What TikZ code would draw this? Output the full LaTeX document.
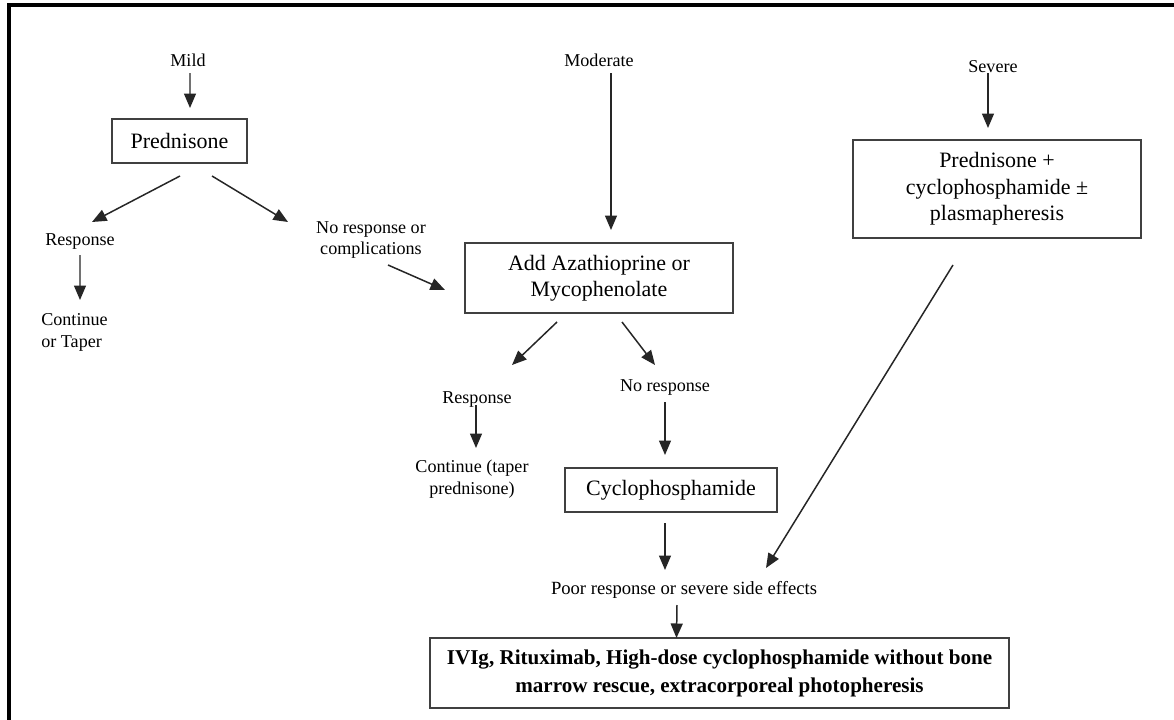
\documentclass[tikz,border=0pt]{standalone}
\usepackage{fontspec}
\setmainfont{Liberation Serif}
\usetikzlibrary{arrows.meta}

\begin{document}
\begin{tikzpicture}
[ x=0.02cm, y=-0.02cm
, box/.style={rectangle, draw=black!75, line width=1pt, inner sep=0pt, align=center, font=\fontsize{12.5}{15}\selectfont}
, boldbox/.style={box, font=\fontsize{12}{16}\selectfont\bfseries}
, caption/.style={inner sep=0pt, align=center, font=\fontsize{10.3}{12.5}\selectfont}
, link/.style={draw=black!85, line width=0.85pt, -{Triangle[length=2.9mm, width=2.4mm]}}
]
\useasboundingbox (0,0) rectangle (1174,720);
\draw [line width=0.08cm] (9,722) |- (1176,5);
% Mild column:
\node (mild) [caption] at (188,60) {Mild};
\node (pred) [box, minimum width=2.7cm, minimum height=0.88cm] at (179.5,141) {Prednisone};
\node (resp1) [caption] at (80,241) {Response};
\node (cont1) [caption, align=left] at (74.5,332) {Continue\\or Taper};
\node (nores1) [caption] at (371,240) {No response or\\complications};
% Moderate column:
\node (moder) [caption] at (599,60) {Moderate};
\node (add) [box, minimum width=5.36cm, minimum height=1.4cm] at (599,278) {Add Azathioprine or\\Mycophenolate};
\node (resp2) [caption] at (477,399) {Response};
\node (cont2) [caption] at (472,479) {Continue (taper\\prednisone)};
\node (nores2) [caption] at (665,387) {No response};
\node (cyc) [box, minimum width=4.24cm, minimum height=0.88cm] at (671,490) {Cyclophosphamide};
% Severe column:
\node (sev) [caption] at (993,67) {Severe};
\node (sevbox) [box, minimum width=5.76cm, minimum height=1.96cm] at (997,189) {Prednisone +\\cyclophosphamide ±\\plasmapheresis};
% Bottom:
\node (poor) [caption, font=\fontsize{10.6}{12.5}\selectfont] at (684,590) {Poor response or severe side effects};
\node (final) [boldbox, minimum width=11.58cm, minimum height=1.4cm] at (719.5,673) {IVIg, Rituximab, High-dose cyclophosphamide without bone\\marrow rescue, extracorporeal photopheresis};

\draw [link] ([shift={(2,13)}]mild.center) -- ([shift={(10.5,-33)}]pred.center);
\draw [link] ([shift={(0.5,35)}]pred.center) -- ([shift={(12,-19)}]resp1.center);
\draw [link] ([shift={(32.5,35)}]pred.center) -- ([shift={(-83,-18)}]nores1.center);
\draw [link] ([shift={(0,14)}]resp1.center) -- ([shift={(5.5,-32)}]cont1.center);
\draw [link] ([shift={(17,25)}]nores1.center) -- ([shift={(-154,12)}]add.center);
\draw [link] ([shift={(12,13)}]moder.center) -- ([shift={(12,-48)}]add.center);
\draw [link] ([shift={(-5,6)}]sev.center) -- ([shift={(-9,-61)}]sevbox.center);
\draw [link] ([shift={(-42,44)}]add.center) -- ([shift={(35,-34)}]resp2.center);
\draw [link] ([shift={(23,44)}]add.center) -- ([shift={(-10,-22)}]nores2.center);
\draw [link] ([shift={(-1,6)}]resp2.center) -- ([shift={(4,-31)}]cont2.center);
\draw [link] ([shift={(0,15)}]nores2.center) -- ([shift={(-6,-35)}]cyc.center);
\draw [link] ([shift={(-6,33)}]cyc.center) -- ([shift={(-19,-20)}]poor.center);
\draw [link] ([shift={(-44,76)}]sevbox.center) -- ([shift={(82,-22)}]poor.center);
\draw [link] ([shift={(-7,15)}]poor.center) -- ([shift={(-43,-35)}]final.center);
\end{tikzpicture}
\end{document}
